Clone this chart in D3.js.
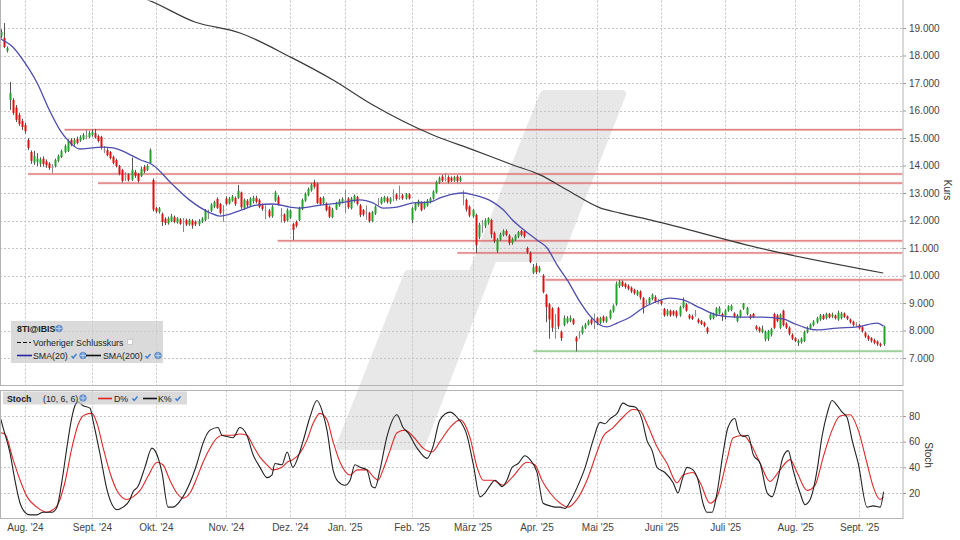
<!DOCTYPE html>
<html>
<head>
<meta charset="utf-8">
<script src="https://cdn.jsdelivr.net/npm/d3@7"></script>
<style>
	body{margin:0;background:#fff}
	svg{display:block;font-family:"Liberation Sans",Arial,sans-serif}
</style>
</head>
<body>
<svg id="chart" width="960" height="540"></svg>
<script>

// ---- data (x = trading day index, 0 = 22.07.2024) ----
const monthStarts = [8,30,51,74,95,113,135,155,176,196,217,238,261,282]
const monthLabels = ["Aug. '24","Sept. '24","Okt. '24","Nov. '24","Dez. '24","Jan. '25","Feb. '25","März '25","Apr. '25","Mai '25","Juni '25","Juli '25","Aug. '25","Sept. '25"]
const priceTicks = [7,8,9,10,11,12,13,14,15,16,17,18,19]
const stochTicks = [20,40,60,80]

// one row per trading day: [open, high, low, close]
const ohlc = [
	// Juli 24
	[18.71,18.95,18.62,18.86],[18.64,19.18,18.27,18.31],[18.17,18.33,18.11,18.27],[16.38,17.04,16.02,16.64],
	[16.38,16.45,15.84,15.91],[16.11,16.20,15.58,15.66],[15.84,15.92,15.44,15.51],[15.62,15.70,15.29,15.40],
	// Aug 24
	[15.47,15.55,15.16,15.25],[14.93,15.00,14.56,14.64],[14.49,14.55,14.06,14.17],[14.11,14.53,14.02,14.35],
	[14.13,14.45,13.98,14.25],[14.06,14.30,13.95,14.22],[14.25,14.33,13.96,14.05],[14.15,14.22,13.92,14.01],
	[14.07,14.12,13.84,13.91],[13.95,14.05,13.72,13.95],[13.98,14.25,13.93,14.20],[14.17,14.40,14.12,14.35],
	[14.31,14.58,14.27,14.52],[14.49,14.77,14.45,14.71],[14.53,14.95,14.49,14.89],[14.93,15.00,14.70,14.75],
	[14.78,15.00,14.72,14.93],[14.96,15.05,14.77,14.82],[14.90,15.10,14.86,15.04],[14.98,15.18,14.93,15.11],
	[15.07,15.30,14.95,15.07],[15.04,15.26,15.00,15.18],
	// Sept 24
	[15.11,15.30,15.05,15.22],[15.18,15.33,14.98,15.02],[15.07,15.12,14.84,14.89],[15.04,15.08,14.58,14.64],
	[14.58,14.71,14.45,14.58],[14.56,14.63,14.33,14.38],[14.49,14.53,14.22,14.27],[14.31,14.36,14.04,14.09],
	[14.20,14.25,13.93,13.98],[13.98,14.02,13.64,13.69],[13.84,13.88,13.38,13.44],[13.60,13.76,13.44,13.60],
	[13.67,13.72,13.42,13.47],[13.49,14.29,13.44,13.84],[13.76,13.84,13.55,13.62],[13.69,13.73,13.38,13.44],
	[13.62,13.95,13.58,13.88],[13.95,14.02,13.72,13.78],[13.84,14.05,13.80,13.98],[14.09,14.62,14.05,14.56],
	[13.47,13.53,12.33,12.40],
	// Okt 24
	[12.45,12.50,12.27,12.33],[12.31,12.49,12.25,12.44],[12.24,12.29,11.80,11.95],[12.06,12.12,11.83,11.91],
	[11.90,12.14,11.85,12.08],[11.98,12.24,11.94,12.15],[12.12,12.18,11.90,11.95],[11.93,12.12,11.88,12.08],
	[12.04,12.09,11.84,11.88],[11.96,12.09,11.58,11.96],[12.02,12.07,11.80,11.85],[11.86,12.06,11.81,12.01],
	[12.00,12.05,11.70,11.82],[11.95,12.00,11.80,11.86],[11.86,12.05,11.80,11.99],[11.97,12.12,11.91,12.07],
	[12.02,12.42,11.98,12.38],[12.31,12.40,12.05,12.31],[12.35,12.63,12.31,12.57],[12.50,12.72,12.45,12.67],
	[12.78,12.84,12.42,12.46],[12.60,12.64,12.22,12.27],[12.38,12.56,11.95,12.38],
	// Nov 24
	[12.80,12.88,12.55,12.60],[12.62,12.86,12.58,12.80],[12.72,12.93,12.68,12.87],[12.82,12.87,12.53,12.60],
	[12.82,13.29,12.78,13.08],[13.02,13.05,12.42,12.48],[12.45,12.80,12.40,12.75],[12.72,12.78,12.48,12.55],
	[12.55,12.85,12.50,12.80],[12.70,12.90,12.62,12.82],[12.82,12.90,12.62,12.68],[12.74,12.80,12.45,12.50],
	[12.55,12.62,12.35,12.42],[12.38,12.55,12.05,12.38],[12.36,12.42,12.10,12.15],[12.15,12.56,12.10,12.50],
	[12.72,13.08,12.68,13.02],[12.85,12.92,12.55,12.60],[12.20,12.45,11.92,12.20],[12.22,12.26,11.92,11.98],
	[12.00,12.44,11.96,12.38],
	// Dez 24
	[12.10,12.40,12.05,12.36],[11.87,11.92,11.29,11.66],[11.95,12.00,11.74,11.80],[12.02,12.50,11.98,12.45],
	[12.42,12.80,12.38,12.75],[12.72,13.02,12.68,12.96],[12.92,13.20,12.88,13.15],[13.10,13.36,13.05,13.30],
	[13.38,13.48,13.16,13.22],[13.33,13.38,12.60,12.64],[12.82,12.86,12.55,12.60],[12.63,12.88,12.58,12.82],
	[12.62,12.66,12.33,12.38],[12.50,12.55,12.09,12.14],[12.12,12.46,12.08,12.40],[12.42,12.68,12.38,12.62],
	[12.55,12.78,12.50,12.72],[12.68,12.84,12.62,12.78],
	// Jan 25
	[12.75,13.11,12.28,12.75],[12.80,12.85,12.42,12.48],[12.45,12.86,12.40,12.80],[12.70,12.95,12.65,12.90],
	[12.85,12.90,12.55,12.60],[12.55,12.60,12.12,12.20],[12.38,12.42,12.15,12.22],[12.30,12.55,12.02,12.30],
	[12.28,12.32,11.92,11.98],[11.98,12.35,11.94,12.30],[12.25,12.55,12.20,12.50],[12.70,12.82,12.55,12.70],
	[12.62,12.86,12.58,12.80],[12.70,12.90,12.65,12.85],[12.82,12.88,12.62,12.68],[12.66,12.85,12.60,12.80],
	[12.90,13.13,12.70,12.90],[12.95,13.00,12.72,12.78],[12.85,13.27,12.75,12.85],[12.92,12.98,12.75,12.80],
	[12.80,13.00,12.76,12.96],[12.95,13.00,12.76,12.80],
	// Feb 25
	[12.02,12.50,11.90,12.45],[12.40,12.65,12.35,12.60],[12.55,12.76,12.50,12.70],[12.66,12.70,12.33,12.38],
	[12.45,12.70,12.40,12.65],[12.55,12.78,12.50,12.72],[12.68,12.85,12.62,12.80],[12.80,13.10,12.76,13.05],
	[13.02,13.45,12.98,13.40],[13.38,13.60,13.33,13.55],[13.60,13.66,13.40,13.45],[13.52,13.72,13.42,13.52],
	[13.58,13.64,13.35,13.40],[13.55,13.60,13.40,13.45],[13.45,13.62,13.40,13.58],[13.60,13.65,13.38,13.44],
	[13.44,13.62,13.40,13.56],[12.90,13.10,12.55,12.90],[12.75,12.80,12.32,12.40],[12.50,12.55,12.12,12.18],
	// März 25
	[12.15,12.42,12.10,12.38],[12.20,12.25,10.82,11.10],[11.40,11.92,11.32,11.85],[11.90,12.02,11.55,11.90],
	[11.80,12.08,11.72,12.00],[11.92,12.12,11.85,12.08],[12.02,12.06,11.36,11.50],[11.55,11.60,11.18,11.25],
	[10.90,11.36,10.82,11.30],[11.30,11.56,11.25,11.50],[11.48,11.68,11.42,11.62],[11.62,11.68,11.42,11.48],
	[11.45,11.50,11.10,11.18],[11.18,11.38,11.12,11.32],[11.30,11.50,11.25,11.45],[11.42,11.62,11.36,11.58],
	[11.62,11.66,11.42,11.48],[11.60,11.66,11.36,11.42],[11.00,11.05,10.78,10.85],[10.82,10.88,10.45,10.50],
	[10.10,10.42,10.05,10.30],
	// Apr 25
	[10.35,10.45,10.05,10.12],[10.15,10.35,10.10,10.28],[10.00,10.05,9.35,9.40],[9.30,9.33,8.30,8.85],
	[8.95,9.00,7.70,8.40],[8.80,8.85,7.95,8.10],[8.10,8.60,7.70,8.10],[8.82,8.86,8.05,8.15],
	[7.95,8.00,7.62,7.72],[8.20,8.55,8.15,8.45],[8.30,8.52,8.25,8.45],[8.35,8.55,8.30,8.46],
	[8.40,8.45,8.20,8.25],[7.75,7.80,7.24,7.60],[7.85,7.98,7.70,7.85],[7.90,8.18,7.85,8.12],
	[8.10,8.28,8.05,8.22],[8.22,8.40,8.18,8.35],[8.40,8.45,8.20,8.26],[8.35,8.62,8.05,8.35],
	// Mai 25
	[8.45,8.50,8.20,8.28],[8.28,8.50,8.22,8.45],[8.50,8.55,8.28,8.35],[8.32,8.52,8.28,8.48],
	[8.45,8.76,8.40,8.72],[8.70,8.95,8.65,8.90],[8.95,9.78,8.90,9.70],[9.62,9.84,9.55,9.78],
	[9.78,9.82,9.58,9.62],[9.70,9.74,9.52,9.58],[9.62,9.68,9.46,9.52],[9.56,9.60,9.36,9.42],
	[9.48,9.52,9.30,9.35],[9.30,9.48,9.25,9.42],[9.42,9.46,9.12,9.20],[9.18,9.22,8.62,8.82],
	[9.00,9.12,8.90,9.00],[9.00,9.22,8.95,9.18],[9.15,9.35,9.10,9.30],[9.22,9.28,9.00,9.05],
	[9.05,9.15,8.95,9.05],
	// Juni 25
	[9.08,9.12,8.92,8.98],[8.78,8.82,8.50,8.55],[8.58,8.78,8.52,8.72],[8.72,8.76,8.50,8.55],
	[8.70,8.74,8.52,8.58],[8.70,8.74,8.46,8.52],[8.55,8.90,8.50,8.85],[8.85,9.20,8.80,9.05],
	[8.95,9.00,8.68,8.72],[8.55,8.60,8.40,8.45],[8.52,8.58,8.38,8.42],[8.60,8.75,8.50,8.60],
	[8.40,8.45,8.25,8.30],[8.35,8.38,8.20,8.24],[8.28,8.32,8.12,8.17],[8.10,8.14,7.88,7.95],
	[8.42,8.62,8.38,8.58],[8.45,8.65,8.40,8.58],[8.55,8.85,8.50,8.80],[8.62,8.88,8.58,8.82],
	[8.60,8.65,8.35,8.52],
	// Juli 25
	[8.55,8.78,8.40,8.72],[8.72,8.92,8.68,8.88],[8.75,8.95,8.70,8.90],[8.62,8.66,8.45,8.50],
	[8.35,8.60,8.30,8.55],[8.50,8.76,8.45,8.72],[8.80,9.00,8.75,8.98],[8.60,8.86,8.55,8.82],
	[8.55,8.60,8.40,8.45],[8.60,8.64,8.45,8.50],[8.15,8.20,8.00,8.05],[8.10,8.14,7.92,7.98],
	[7.95,8.18,7.90,8.05],[7.68,8.00,7.60,7.95],[7.70,8.02,7.62,7.98],[7.85,8.10,7.78,8.05],
	[8.60,8.65,8.05,8.10],[8.55,8.60,8.30,8.35],[8.10,8.62,8.05,8.58],[8.72,8.76,8.15,8.20],
	[8.25,8.30,8.05,8.10],[8.10,8.15,7.82,7.88],[7.85,7.90,7.65,7.70],
	// Aug 25
	[7.72,7.76,7.58,7.62],[7.55,7.68,7.44,7.62],[7.58,7.75,7.52,7.70],[7.62,8.00,7.58,7.95],
	[7.95,8.15,7.90,8.10],[8.08,8.26,8.04,8.22],[8.20,8.38,8.15,8.32],[8.30,8.50,8.25,8.45],
	[8.40,8.60,8.35,8.55],[8.55,8.60,8.38,8.42],[8.45,8.65,8.40,8.60],[8.60,8.64,8.44,8.48],
	[8.50,8.65,8.45,8.58],[8.55,8.58,8.40,8.45],[8.40,8.72,8.35,8.65],[8.45,8.68,8.40,8.62],
	[8.62,8.66,8.46,8.50],[8.52,8.55,8.38,8.42],[8.40,8.44,8.25,8.30],[8.32,8.36,8.15,8.20],
	[8.22,8.30,8.12,8.22],
	// Sept 25
	[8.20,8.25,8.04,8.08],[8.12,8.16,7.92,7.98],[7.92,7.96,7.72,7.78],[7.80,7.84,7.62,7.68],
	[7.72,7.76,7.56,7.62],[7.65,7.70,7.50,7.55],[7.60,7.64,7.44,7.50],[7.52,7.56,7.40,7.45],
	[7.50,8.18,7.44,8.15]
]

// indicator lines: [day index, value]
const sma20 = [[0,18.60],[4,18.31],[8,17.73],[12,17.00],[16,16.02],[19.5,15.29],[22,14.93],[26,14.60],[30,14.64],
	[33,14.67],[37,14.64],[41.5,14.45],[46,14.20],[50,14.02],[56,13.36],[62,12.75],[69,12.27],[72,12.16],[79,12.38],
	[84,12.56],[89.5,12.60],[95,12.49],[98,12.45],[105,12.56],[111.5,12.64],[118,12.75],[122.3,12.64],[125.6,12.45],
	[130.2,12.49],[135.5,12.64],[141,12.67],[144.3,12.82],[148.6,12.96],[151.9,13.00],[155.2,12.93],[161.7,12.67],
	[165,12.40],[168.3,12.00],[171.6,11.68],[176.2,11.29],[179.5,11.00],[182.8,10.38],[186.1,9.84],[190.3,9.04],
	[193.6,8.53],[196.9,8.20],[199.2,8.13],[202.5,8.27],[206.8,8.49],[211,8.82],[214.3,9.00],[219.9,9.18],[224.2,9.11],
	[229.8,8.82],[235.3,8.56],[241.9,8.49],[248.5,8.49],[257,8.42],[260.3,8.27],[265.9,8.05],[268.2,8.02],[274.8,8.09],
	[281.3,8.13],[287.9,8.27],[290,8.16]]
const sma200 = [[40.5,20.31],[48.4,20.02],[63.8,19.22],[78.6,18.82],[95.1,17.95],[109.2,17.11],[122.3,16.20],
	[142,15.11],[155.2,14.57],[168.3,14.02],[177.2,13.66],[186.1,13.11],[196.9,12.46],[203.5,12.27],[213.3,12.02],
	[251.8,10.93],[289.9,10.09]]

const stochK = [[0,78],[0.8,71],[3.1,51],[4.7,30],[6.4,12],[8,5],[9.6,3],[11.9,3],[13.9,5],[16.9,5],[18.5,9],[20.2,30],
	[21.8,56],[23.4,79],[24.4,88],[25.4,91],[27.1,88],[29.4,86],[30.3,77],[32.6,51],[35,22],[36.6,11],[38.2,7],[40.2,9],
	[42.5,15],[43.5,21],[45.1,25],[47.4,40],[49.7,55],[50.7,53],[53,36],[55,9],[56.6,9],[59.6,16],[62.2,28],[64.5,43],
	[66.5,59],[68.8,69],[71.4,71],[72.7,65],[74.4,64],[76.3,63],[78.6,71],[80.9,65],[82.9,50],[85.2,40],[87.5,32],
	[89.1,34],[90.1,43],[92.4,42],[94.1,52],[96,40],[97.7,48],[99.3,60],[101.6,79],[103.9,92],[105.6,84],[107.2,69],
	[109.2,38],[110.8,29],[113.1,26],[114.8,30],[116.4,42],[118.1,40],[120.3,38],[122,25],[123,24],[124.6,38],
	[126.9,64],[130.2,81],[132.2,71],[133.8,67],[136.8,55],[140.1,47],[142,56],[144.3,77],[147.6,83],[149.9,79],
	[153.3,64],[155.2,43],[157.5,17],[159.1,20],[160.8,26],[162.4,30],[164.7,25],[166.3,30],[168,40],[170,43],
	[172.2,49],[173.9,46],[176.2,36],[178.2,12],[180.5,10],[182.1,9],[183.8,9],[185.4,8],[187,13],[189.3,24],[192,40],
	[194.6,61],[196.9,75],[198.5,74],[200.2,78],[202.5,82],[204.4,90],[206.1,88],[208.4,87],[210.7,77],[212.3,61],
	[214,53],[215.6,40],[218.2,36],[220.9,28],[222.5,20],[223.8,30],[225.5,40],[227.4,38],[229.1,30],[230.7,12],
	[232,5],[233.7,5],[235.3,20],[237.3,51],[238.9,71],[241.2,78],[242.2,69],[243.9,64],[245.5,65],[247.2,50],
	[249.5,43],[251.8,20],[253.4,17],[255,28],[257,48],[258.7,53],[260.3,38],[262.6,20],[264.2,11],[265.9,15],
	[268.2,38],[269.8,64],[271.5,82],[273.1,92],[274.8,88],[276.4,83],[278,79],[279.7,61],[281.7,43],[284.6,9],
	[286.6,10],[288.9,9],[290,21]]
const stochD = [[0,67],[1.4,66],[4.1,46],[6.4,30],[8.7,17],[11.9,9],[15.2,5],[17.2,7],[18.8,11],[21.1,28],[23.4,55],
	[25.4,73],[27.7,81],[30,82],[31.7,74],[33.6,56],[35.9,36],[38.2,22],[41.5,15],[43.5,17],[45.8,22],[48.4,33],
	[51.4,44],[53.3,42],[55.6,30],[57.9,20],[59.9,16],[62.2,20],[64.5,32],[66.5,44],[68.8,55],[71.1,63],[73,65],
	[76.3,65],[78.6,66],[80.9,65],[82.9,57],[85.2,48],[87.5,42],[89.5,38],[92.4,40],[94.1,44],[96,46],[98.3,51],
	[100.6,61],[102.6,74],[104.9,82],[107.2,77],[109.2,60],[111.5,44],[114.8,34],[117.1,38],[120.3,38],[122.3,33],
	[124,30],[125.6,38],[127.9,53],[130.2,67],[132.8,69],[135.5,64],[138.8,55],[141.7,52],[144.3,60],[147.6,71],
	[150.9,77],[154.2,63],[156.5,40],[158.5,30],[161.7,30],[165,26],[168.3,33],[172.9,44],[175.5,42],[177.8,30],
	[180.5,20],[183.8,12],[186.4,9],[189.3,15],[192.6,30],[195.9,52],[197.9,64],[201.2,71],[204.4,79],[207.7,85],
	[210,84],[212.3,74],[215.6,56],[218.9,43],[222.2,28],[224.2,34],[227.4,36],[229.8,28],[233,12],[235.3,17],
	[238.6,46],[240.6,63],[243.9,65],[246.2,59],[249.5,43],[252.7,29],[256,38],[259.3,46],[261.6,36],[264.9,22],
	[267.5,26],[270.2,48],[273.1,69],[275.7,80],[279,81],[281.7,69],[284.6,43],[286.6,25],[288.9,15],[290,17]]

// horizontal resistance / support lines
const resistLevels = [15.30,13.69,13.36,11.26,10.82,9.84]
const resistFrom = [21,9,32,91,150,179]
const supportLevels = [7.25]
const supportFrom = [175]

// ---- layout ----
const plotRight = 902.5
const main = {top:0.5, bottom:385.5}
const stoch = {top:390.5, bottom:518.5}
const gridColor = "#c4c4c4"

const svg = d3.select("#chart")
const x = d3.scaleLinear().domain([-0.2, 296.4]).range([0, 903])
const y = d3.scaleLinear().domain([6, 20]).range([385.5, 0.5])
const ys = d3.scaleLinear().domain([0, 100]).range([518.7, 390.3])
const px = v => Math.round(v) + 0.5

const defs = svg.append("defs")
defs.append("clipPath").attr("id","clipMain").append("rect")
	.attr("x",0).attr("y",main.top).attr("width",plotRight).attr("height",main.bottom-main.top)
defs.append("clipPath").attr("id","clipStoch").append("rect")
	.attr("x",0).attr("y",stoch.top).attr("width",plotRight).attr("height",stoch.bottom-stoch.top)

// watermark logo behind everything
svg.append("path")
	.attr("d","M544,94 L622,94 L558,258 L493,258 L421,446 L340,446 L408,274 L472,274 Z")
	.attr("fill","#e8e8e8").attr("stroke","#e8e8e8").attr("stroke-width",8).attr("stroke-linejoin","round")

// grid
function grid(g, top, bottom, ticks, scale){
	g.selectAll("line.h").data(ticks).join("line").attr("class","h")
		.attr("x1",0).attr("x2",plotRight)
		.attr("y1",d=>px(scale(d))).attr("y2",d=>px(scale(d)))
	g.selectAll("line.v").data(monthStarts).join("line").attr("class","v")
		.attr("x1",d=>px(x(d))).attr("x2",d=>px(x(d)))
		.attr("y1",top).attr("y2",bottom)
	g.selectAll("line").attr("stroke",gridColor).attr("stroke-dasharray","2,2")
}
grid(svg.append("g"), main.top, main.bottom, priceTicks, y)
grid(svg.append("g"), stoch.top, stoch.bottom, stochTicks, ys)

// ---- main panel ----
const gm = svg.append("g").attr("clip-path","url(#clipMain)")

function levelLines(levels, starts, halo, core){
	const g = gm.append("g")
	levels.forEach((v,k)=>{
		g.append("line").attr("x1",x(starts[k])).attr("x2",plotRight)
			.attr("y1",y(v)).attr("y2",y(v))
			.attr("stroke",halo).attr("stroke-width",2.6).attr("stroke-opacity",0.45)
		g.append("line").attr("x1",x(starts[k])).attr("x2",plotRight)
			.attr("y1",y(v)).attr("y2",y(v))
			.attr("stroke",core).attr("stroke-width",0.9).attr("stroke-opacity",0.9)
	})
}
levelLines(resistLevels, resistFrom, "#ee9f9f", "#d04646")
levelLines(supportLevels, supportFrom, "#a9d9a9", "#62b062")

const lineFn = (sx, sy) => d3.line().x(d=>sx(d[0])).y(d=>sy(d[1])).curve(d3.curveMonotoneX)

gm.append("path").datum(sma200).attr("d",lineFn(x,y))
	.attr("fill","none").attr("stroke","#3a3a3a").attr("stroke-width",1.2)

// candles
const candles = ohlc.map((r,i)=>({i:i,o:r[0],h:r[1],l:r[2],c:r[3]}))
const isFlat = d => Math.abs(d.c-d.o) < 0.005
const candleColor = d => isFlat(d) ? "#9a9a9a" : (d.c > d.o ? "#22a32a" : "#e01010")
const gc = gm.append("g")
gc.selectAll("line").data(candles).join("line")
	.attr("x1",d=>px(x(d.i))).attr("x2",d=>px(x(d.i)))
	.attr("y1",d=>y(d.h)).attr("y2",d=>y(d.l))
	.attr("stroke",d=>isFlat(d) ? "#888" : "#555").attr("stroke-width",1)
gc.selectAll("rect").data(candles).join("rect")
	.attr("x",d=>Math.round(x(d.i))-0.5).attr("width",2)
	.attr("y",d=>y(Math.max(d.o,d.c)))
	.attr("height",d=>Math.max(1, y(Math.min(d.o,d.c)) - y(Math.max(d.o,d.c))))
	.attr("fill",candleColor)

gm.append("path").datum(sma20).attr("d",lineFn(x,y))
	.attr("fill","none").attr("stroke","#4d4db0").attr("stroke-width",1.3)

// ---- stochastic panel ----
const gs = svg.append("g").attr("clip-path","url(#clipStoch)")
gs.append("path").datum(stochD).attr("d",lineFn(x,ys))
	.attr("fill","none").attr("stroke","#e02828").attr("stroke-width",1.1)
gs.append("path").datum(stochK).attr("d",lineFn(x,ys))
	.attr("fill","none").attr("stroke","#222").attr("stroke-width",1.1)

// panel frames
svg.append("rect").attr("x",0.5).attr("y",-1).attr("width",plotRight).attr("height",main.bottom+1)
	.attr("fill","none").attr("stroke","#b4b4b4")
svg.append("rect").attr("x",0.5).attr("y",stoch.top).attr("width",plotRight).attr("height",stoch.bottom-stoch.top)
	.attr("fill","none").attr("stroke","#b4b4b4")

// ---- axes ----
function styleAxis(g){
	g.select(".domain").remove()
	g.selectAll(".tick line").attr("stroke","#999")
	g.selectAll(".tick text").attr("fill","#444").style("font-size","10px")
		.style("font-family",'"Liberation Sans",Arial,sans-serif')
}
svg.append("g").attr("transform","translate(903,0)")
	.call(d3.axisRight(y).tickValues(priceTicks).tickFormat(d3.format(".3f")).tickSize(3).tickPadding(3))
	.call(styleAxis)
svg.append("g").attr("transform","translate(903,0)")
	.call(d3.axisRight(ys).tickValues(stochTicks).tickFormat(d3.format("d")).tickSize(3).tickPadding(3))
	.call(styleAxis)
svg.append("g").attr("transform","translate(0,519)")
	.call(d3.axisBottom(x).tickValues(monthStarts).tickFormat((d,k)=>monthLabels[k]).tickSize(0).tickPadding(5))
	.call(styleAxis)

svg.append("text").attr("transform","translate(944,190) rotate(90)")
	.attr("text-anchor","middle").attr("fill","#333").style("font-size","10px").text("Kurs")
svg.append("text").attr("transform","translate(925,455) rotate(90)")
	.attr("text-anchor","middle").attr("fill","#333").style("font-size","10px").text("Stoch")

// ---- legends ----
function globe(g, cx, cy){
	g.append("circle").attr("cx",cx).attr("cy",cy).attr("r",3.3).attr("fill","#6f9bd6").attr("stroke","#3f6fb0").attr("stroke-width",0.6)
	g.append("path").attr("d",`M${cx-3},${cy} H${cx+3} M${cx},${cy-3} V${cy+3}`).attr("stroke","#dfe9f7").attr("stroke-width",0.6)
}
function check(g, cx, cy){
	g.append("path").attr("d",`M${cx-2.5},${cy} L${cx-0.8},${cy+2} L${cx+2.5},${cy-2}`)
		.attr("fill","none").attr("stroke","#3b7ad4").attr("stroke-width",1.4)
}
function label(g, tx, ty, str, bold){
	g.append("text").attr("x",tx).attr("y",ty).attr("fill","#222").style("font-size","8.8px")
		.style("font-weight",bold ? "bold" : "normal").text(str)
}

const lg = svg.append("g")
lg.append("rect").attr("x",11).attr("y",321).attr("width",152).attr("height",42).attr("fill","#cdcdcd").attr("opacity",0.75)
label(lg,17,332,"8TI@IBIS",true)
globe(lg,59,328.5)
lg.append("line").attr("x1",17).attr("x2",31).attr("y1",342.5).attr("y2",342.5)
	.attr("stroke","#111").attr("stroke-width",1).attr("stroke-dasharray","4,2")
label(lg,33,346,"Vorheriger Schlusskurs",false)
lg.append("rect").attr("x",127.5).attr("y",339.5).attr("width",5).attr("height",5).attr("fill","#fff").attr("stroke","#ccc")
lg.append("line").attr("x1",17).attr("x2",32).attr("y1",355.5).attr("y2",355.5).attr("stroke","#2424a0").attr("stroke-width",1.6)
label(lg,33,359,"SMA(20)",false)
check(lg,74,356)
globe(lg,83,355.5)
lg.append("line").attr("x1",86).attr("x2",101).attr("y1",355.5).attr("y2",355.5).attr("stroke","#111").attr("stroke-width",1.6)
label(lg,103,359,"SMA(200)",false)
check(lg,148,356)
globe(lg,158,355.5)

const sg = svg.append("g")
sg.append("rect").attr("x",3).attr("y",391.5).attr("width",184).attr("height",13).attr("fill","#cdcdcd").attr("opacity",0.75)
label(sg,7,401.5,"Stoch",true)
label(sg,43,401.5,"(10, 6, 6)",false)
globe(sg,83,398)
sg.append("line").attr("x1",98).attr("x2",112).attr("y1",398.5).attr("y2",398.5).attr("stroke","#e02020").attr("stroke-width",1.6)
label(sg,114,401.5,"D%",false)
check(sg,135,398.5)
sg.append("line").attr("x1",143).attr("x2",157).attr("y1",398.5).attr("y2",398.5).attr("stroke","#111").attr("stroke-width",1.6)
label(sg,158,401.5,"K%",false)
check(sg,178,398.5)

</script>
</body>
</html>
